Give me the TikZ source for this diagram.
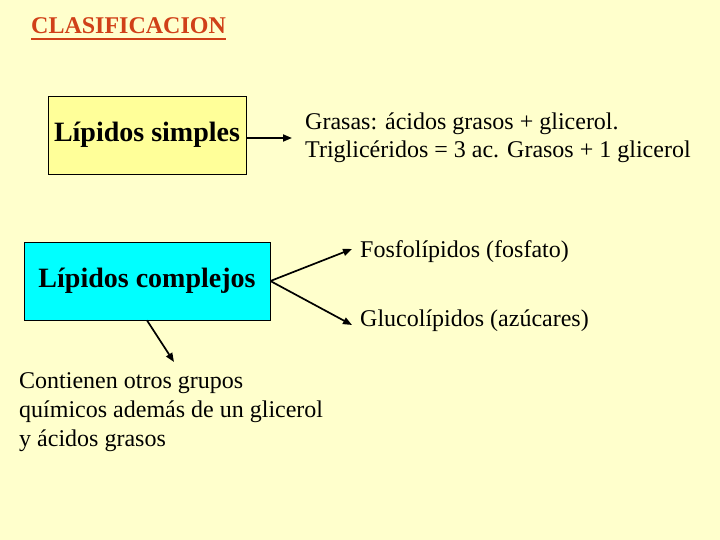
\documentclass[tikz,border=0pt]{standalone}
\usepackage{fontspec}
\setmainfont{Liberation Serif}
\usetikzlibrary{arrows.meta}
\definecolor{bgcol}{RGB}{255,255,204}
\definecolor{simplecol}{RGB}{255,255,153}
\definecolor{complexcol}{RGB}{0,255,255}
\definecolor{titlecol}{RGB}{208,64,24}
\tikzset{
  bodytext/.style={inner sep=0pt, align=left, font=\fontsize{24}{27.6}\selectfont},
  boxtext/.style={draw=black, line width=0.8pt, font=\bfseries\fontsize{28}{32}\selectfont, minimum height=78pt},
  arr/.style={line width=1.7pt, -{Triangle[length=9pt,width=7pt]}},
}
\begin{document}
\begin{tikzpicture}[x=1pt,y=-1pt]
\fill[bgcol] (0,0) rectangle (720,540);
\useasboundingbox (0,0) rectangle (720,540);
% title
\node[inner sep=0pt, anchor=west, text=titlecol, font=\bfseries\fontsize{24}{28}\selectfont] (title) at (31,26) {CLASIFICACION};
\draw[titlecol, line width=2pt] ([yshift=-5pt]title.base west) -- ([yshift=-5pt]title.base east);
% boxes
\node[boxtext, fill=simplecol, minimum width=198pt] (simple) at (147,135) {Lípidos simples};
\node[boxtext, fill=complexcol, minimum width=246pt] (complex) at (147,281) {Lípidos complejos};
% texts
\node[bodytext, anchor=west] (grasas) at (305,137.5) {Grasas: ácidos grasos + glicerol.\\Triglicéridos = 3 ac. Grasos + 1 glicerol};
\node[bodytext, anchor=west] (fosfo) at (360,252) {Fosfolípidos (fosfato)};
\node[bodytext, anchor=west] (gluco) at (360,321) {Glucolípidos (azúcares)};
\node[bodytext, anchor=west, font=\fontsize{24}{29}\selectfont] (contienen) at (19,412) {Contienen otros grupos\\químicos además de un glicerol\\y ácidos grasos};
% connectors
\coordinate (sstart) at ([yshift=-3pt]simple.east);
\draw[arr] (sstart) -- ([xshift=-13pt]grasas.west |- sstart);
\draw[arr] (complex.east) -- ([xshift=-8pt,yshift=3pt]fosfo.west);
\draw[arr] (complex.east) -- ([xshift=-8pt,yshift=-4pt]gluco.west);
\coordinate (dtip) at (174,362);
\draw[arr] (complex.south) -- (dtip);
\end{tikzpicture}
\end{document}
